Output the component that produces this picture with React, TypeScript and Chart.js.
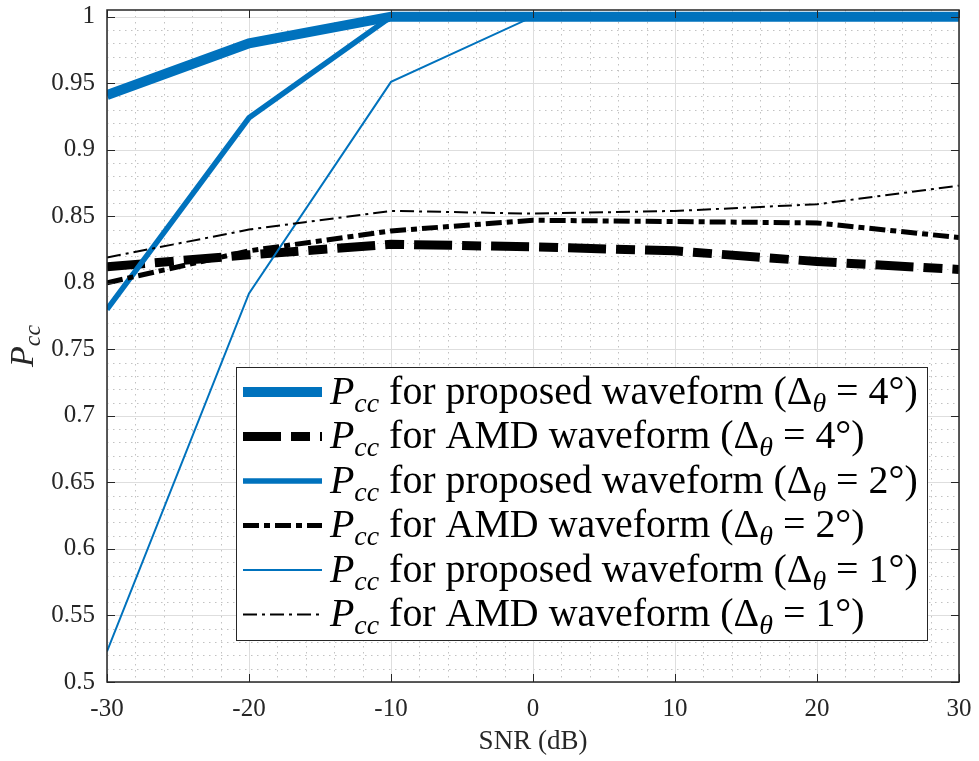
import React, { useEffect, useRef } from 'react';
import { Chart, registerables } from 'chart.js';

Chart.register(...registerables);

// ---------- data ----------
const snr = [-30, -20, -10, 0, 10, 20, 30];
const proposed4 = [0.941, 0.98, 1, 1, 1, 1, 1];
const amd4 = [0.812, 0.821, 0.829, 0.827, 0.824, 0.816, 0.81];
const proposed2 = [0.78, 0.924, 1, 1, 1, 1, 1];
const amd2 = [0.8, 0.824, 0.839, 0.847, 0.846, 0.845, 0.834];
const proposed1 = [0.523, 0.792, 0.951, 1, 1, 1, 1];
const amd1 = [0.819, 0.84, 0.854, 0.852, 0.854, 0.859, 0.873];

const xTicks = [-30, -20, -10, 0, 10, 20, 30];
const xTickLabels = ['-30', '-20', '-10', '0', '10', '20', '30'];
const yTicks = [0.5, 0.55, 0.6, 0.65, 0.7, 0.75, 0.8, 0.85, 0.9, 0.95, 1];
const yTickLabels = ['0.5', '0.55', '0.6', '0.65', '0.7', '0.75', '0.8', '0.85', '0.9', '0.95', '1'];

const waveformNames = ['proposed', 'AMD', 'proposed', 'AMD', 'proposed', 'AMD'];
const deltaValues = ['4', '4', '2', '2', '1', '1'];
const xTitle = 'SNR (dB)';

// ---------- style ----------
const BLUE = '#0072BD';
const BLACK = '#000000';
const AXIS = '#262626';
const SERIF = '"Liberation Serif", "DejaVu Serif", serif';
const X_MIN = -30, X_MAX = 30, Y_MIN = 0.5, Y_MAX = 1.005;
const X_MINOR = 2, Y_MINOR = 0.01;

const seriesValues = [proposed4, amd4, proposed2, amd2, proposed1, amd1];
const seriesStyle = [
  { color: BLUE, width: 10, dash: [] as number[] },
  { color: BLACK, width: 9, dash: [38, 10, 19, 10] },
  { color: BLUE, width: 5.5, dash: [] as number[] },
  { color: BLACK, width: 5, dash: [16, 5, 6, 5] },
  { color: BLUE, width: 2, dash: [] as number[] },
  { color: BLACK, width: 2, dash: [14, 5, 3, 5] },
];

type Part = { t: string; it?: boolean; sub?: boolean };

function fontFor(p: Part, size: number) {
  const s = Math.round((p.sub ? size * 0.7 : size) * 10) / 10;
  return `${p.it ? 'italic ' : ''}${s}px ${SERIF}`;
}

function measureParts(ctx: CanvasRenderingContext2D, parts: Part[], size: number) {
  let w = 0;
  for (const p of parts) {
    ctx.font = fontFor(p, size);
    w += ctx.measureText(p.t).width;
  }
  return w;
}

function drawParts(ctx: CanvasRenderingContext2D, parts: Part[], x: number, y: number, size: number) {
  let cx = x;
  ctx.textBaseline = 'alphabetic';
  ctx.textAlign = 'left';
  for (const p of parts) {
    ctx.font = fontFor(p, size);
    ctx.fillText(p.t, cx, p.sub ? y + size * 0.2 : y);
    cx += ctx.measureText(p.t).width;
  }
  return cx - x;
}

function legendParts(i: number): Part[] {
  return [
    { t: 'P', it: true },
    { t: 'cc', it: true, sub: true },
    { t: ` for ${waveformNames[i]} waveform (` },
    { t: 'Δ' },
    { t: 'θ', it: true, sub: true },
    { t: ` = ${deltaValues[i]}°)` },
  ];
}

const matlabPlugin = {
  id: 'matlabAxes',
  beforeDatasetsDraw(chart: any) {
    const { ctx, chartArea: a, scales } = chart;
    const x = scales.x, y = scales.y;
    ctx.save();
    ctx.lineWidth = 1;
    ctx.strokeStyle = '#c2c2c2';
    ctx.setLineDash([1.5, 4.5]);
    const nx = Math.round((X_MAX - X_MIN) / X_MINOR);
    for (let k = 1; k < nx; k++) {
      const p = Math.round(x.getPixelForValue(X_MIN + k * X_MINOR)) + 0.5;
      ctx.beginPath(); ctx.moveTo(p, a.top); ctx.lineTo(p, a.bottom); ctx.stroke();
    }
    const ny = Math.round((1 - Y_MIN) / Y_MINOR);
    for (let k = 1; k <= ny; k++) {
      const p = Math.round(y.getPixelForValue(Y_MIN + k * Y_MINOR)) + 0.5;
      ctx.beginPath(); ctx.moveTo(a.left, p); ctx.lineTo(a.right, p); ctx.stroke();
    }
    ctx.setLineDash([]);
    ctx.strokeStyle = '#dedede';
    for (const v of xTicks) {
      const p = Math.round(x.getPixelForValue(v)) + 0.5;
      ctx.beginPath(); ctx.moveTo(p, a.top); ctx.lineTo(p, a.bottom); ctx.stroke();
    }
    for (const v of yTicks) {
      const p = Math.round(y.getPixelForValue(v)) + 0.5;
      ctx.beginPath(); ctx.moveTo(a.left, p); ctx.lineTo(a.right, p); ctx.stroke();
    }
    ctx.restore();
  },
  afterDatasetsDraw(chart: any) {
    const { ctx, chartArea: a, scales } = chart;
    const x = scales.x, y = scales.y;
    ctx.save();
    ctx.setLineDash([]);
    ctx.strokeStyle = AXIS;
    ctx.lineWidth = 1;
    const tl = 8;
    for (const v of xTicks) {
      const p = Math.round(x.getPixelForValue(v)) + 0.5;
      ctx.beginPath(); ctx.moveTo(p, a.bottom); ctx.lineTo(p, a.bottom - tl); ctx.stroke();
      ctx.beginPath(); ctx.moveTo(p, a.top); ctx.lineTo(p, a.top + tl); ctx.stroke();
    }
    for (const v of yTicks) {
      const p = Math.round(y.getPixelForValue(v)) + 0.5;
      ctx.beginPath(); ctx.moveTo(a.left, p); ctx.lineTo(a.left + tl, p); ctx.stroke();
      ctx.beginPath(); ctx.moveTo(a.right, p); ctx.lineTo(a.right - tl, p); ctx.stroke();
    }
    ctx.lineWidth = 1.5;
    ctx.strokeRect(a.left, a.top, a.right - a.left, a.bottom - a.top);

    // legend
    const bx = 236, by = 367, bw = 691, bh = 273;
    ctx.fillStyle = '#ffffff';
    ctx.fillRect(bx, by, bw, bh);
    ctx.lineWidth = 1;
    ctx.strokeStyle = AXIS;
    ctx.strokeRect(bx + 0.5, by + 0.5, bw, bh);
    const rowH = 44.5;
    const firstRow = by + 25;
    const textX = 330;
    const maxTextW = bx + bw - 9 - textX;
    let size = 40;
    let widest = 0;
    for (let i = 0; i < 6; i++) widest = Math.max(widest, measureParts(ctx, legendParts(i), size));
    size = Math.min(40, Math.floor(size * maxTextW / widest * 10) / 10);
    for (let i = 0; i < 6; i++) {
      const cy = firstRow + i * rowH;
      const st = seriesStyle[i];
      ctx.strokeStyle = st.color;
      ctx.lineWidth = st.width;
      ctx.setLineDash(st.dash);
      ctx.lineCap = 'butt';
      ctx.beginPath(); ctx.moveTo(243, cy); ctx.lineTo(322, cy); ctx.stroke();
      ctx.setLineDash([]);
      ctx.fillStyle = '#000000';
      drawParts(ctx, legendParts(i), textX, cy + size * 0.3, size);
    }
    ctx.restore();
  },
  afterDraw(chart: any) {
    const { ctx, chartArea: a } = chart;
    ctx.save();
    ctx.fillStyle = AXIS;
    ctx.font = `27px ${SERIF}`;
    ctx.textAlign = 'center';
    ctx.textBaseline = 'alphabetic';
    ctx.fillText(xTitle, (a.left + a.right) / 2, 749);
    const parts: Part[] = [{ t: 'P', it: true }, { t: 'cc', it: true, sub: true }];
    const size = 34;
    const w = measureParts(ctx, parts, size);
    ctx.translate(33, (a.top + a.bottom) / 2);
    ctx.rotate(-Math.PI / 2);
    drawParts(ctx, parts, -w / 2, 0, size);
    ctx.restore();
  },
};

export default function App() {
  const ref = useRef<HTMLCanvasElement | null>(null);
  useEffect(() => {
    if (!ref.current) return;
    let alive = true;
    const datasets = seriesValues.map((vals, i) => ({
      label: `${waveformNames[i]} ${deltaValues[i]}`,
      data: snr.map((s, j) => ({ x: s, y: vals[j] })),
      borderColor: seriesStyle[i].color,
      backgroundColor: seriesStyle[i].color,
      borderWidth: seriesStyle[i].width,
      borderDash: seriesStyle[i].dash,
      borderCapStyle: 'butt' as const,
      borderJoinStyle: 'miter' as const,
      pointRadius: 0,
      tension: 0,
      fill: false,
      order: seriesValues.length - i,
    }));
    const tickFont = { family: SERIF, size: 25 };
    const chart = new Chart(ref.current, {
      type: 'line',
      data: { datasets },
      plugins: [matlabPlugin],
      options: {
        animation: false,
        responsive: false,
        layout: { padding: { top: 10, right: 20, bottom: 0, left: 0 } },
        plugins: { legend: { display: false }, tooltip: { enabled: false } },
        scales: {
          x: {
            type: 'linear',
            min: X_MIN,
            max: X_MAX,
            grid: { display: false, drawTicks: false },
            border: { display: false },
            afterBuildTicks: (s: any) => { s.ticks = xTicks.map((v) => ({ value: v })); },
            afterFit: (s: any) => { s.height = 79; s.paddingLeft = 0; s.paddingRight = 0; },
            ticks: {
              font: tickFont,
              color: AXIS,
              padding: 12,
              maxRotation: 0,
              autoSkip: false,
              callback: (_v: any, i: number) => xTickLabels[i],
            },
          },
          y: {
            type: 'linear',
            min: Y_MIN,
            max: Y_MAX,
            grid: { display: false, drawTicks: false },
            border: { display: false },
            afterBuildTicks: (s: any) => { s.ticks = yTicks.map((v) => ({ value: v })); },
            afterFit: (s: any) => { s.width = 107; s.paddingTop = 0; s.paddingBottom = 0; },
            ticks: {
              font: tickFont,
              color: AXIS,
              padding: 12,
              autoSkip: false,
              callback: (_v: any, i: number) => yTickLabels[i],
            },
          },
        },
      },
    });
    const redraw = () => { if (alive) chart.update(); };
    try {
      const fs: any = (document as any).fonts;
      if (fs) {
        Promise.all([
          fs.load('25px "Liberation Serif"'),
          fs.load('italic 25px "Liberation Serif"'),
        ]).then(redraw, redraw);
        fs.ready.then(redraw, redraw);
      }
    } catch (e) { /* ignore */ }
    const t1 = setTimeout(redraw, 100);
    const t2 = setTimeout(redraw, 500);
    return () => { alive = false; clearTimeout(t1); clearTimeout(t2); chart.destroy(); };
  }, []);
  return (
    <div style={{ position: 'absolute', left: 0, top: 0, width: 979, height: 761, background: '#fff' }}>
      <span style={{ position: 'absolute', left: 0, top: 0, fontFamily: '"Liberation Serif"', fontSize: 1, color: 'transparent' }}>a<i>a</i></span>
      <canvas ref={ref} width={979} height={761} style={{ display: 'block' }} />
    </div>
  );
}
